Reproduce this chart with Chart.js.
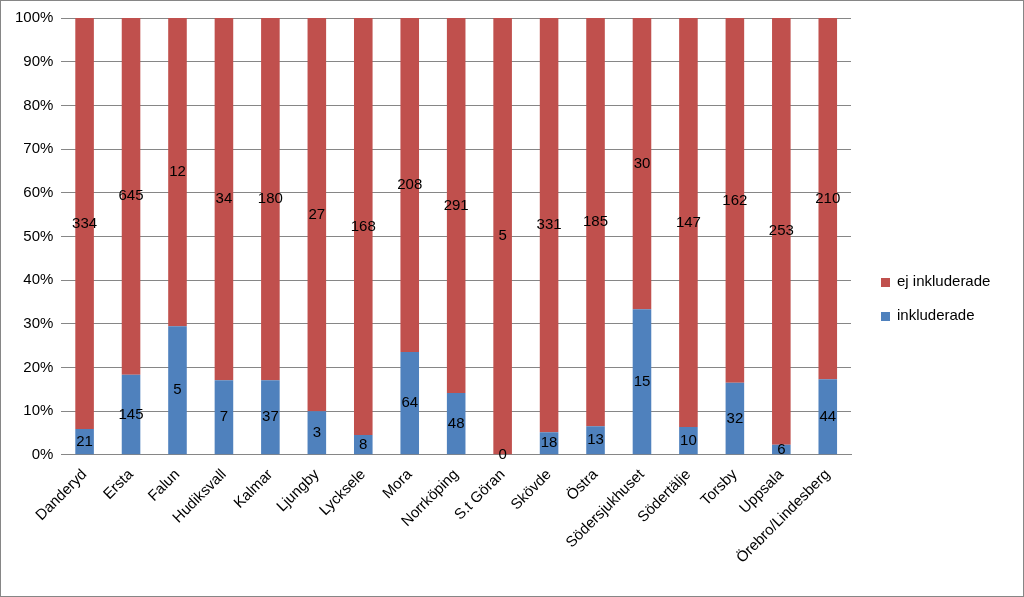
<!DOCTYPE html>
<html><head><meta charset="utf-8">
<script src="https://cdn.jsdelivr.net/npm/chart.js@4"></script>
<style>
body{margin:0;background:#fff}
#wrap{width:1022px;height:595px;border:1px solid #868686}
</style></head>
<body><div id="wrap"><canvas id="c" width="1022" height="595"></canvas></div>
<script>
const categories = ['Danderyd','Ersta','Falun','Hudiksvall','Kalmar','Ljungby','Lycksele','Mora','Norrköping','S.t Göran','Skövde','Östra','Södersjukhuset','Södertälje','Torsby','Uppsala','Örebro/Lindesberg'];
const inkluderade = [21,145,5,7,37,3,8,64,48,0,18,13,15,10,32,6,44];
const ejInkluderade = [334,645,12,34,180,27,168,208,291,5,331,185,30,147,162,253,210];

const pct = (a, b) => a.map((v, i) => 100 * v / (v + b[i]));
const font = '"Liberation Sans", Arial, sans-serif';

// write raw counts in the middle of each segment
const countLabels = {
  id: 'countLabels',
  afterDatasetsDraw(chart) {
    const ctx = chart.ctx;
    ctx.save();
    ctx.font = '15px ' + font;
    ctx.fillStyle = '#000';
    ctx.textAlign = 'center';
    ctx.textBaseline = 'middle';
    chart.data.datasets.forEach((ds, di) => {
      chart.getDatasetMeta(di).data.forEach((bar, i) => {
        const y = (bar.y + bar.base) / 2;
        ctx.fillText(ds.counts[i], bar.x, y);
      });
    });
    ctx.restore();
  }
};

// legend drawn by hand on the right
const sideLegend = {
  id: 'sideLegend',
  afterDraw(chart) {
    const ctx = chart.ctx;
    ctx.save();
    ctx.font = '15px ' + font;
    ctx.textBaseline = 'middle';
    const items = [chart.data.datasets[1], chart.data.datasets[0]];
    items.forEach((ds, i) => {
      const y = 281 + i * 34;
      ctx.fillStyle = ds.backgroundColor;
      ctx.fillRect(880, y - 4, 9, 9);
      ctx.fillStyle = '#000';
      ctx.fillText(ds.label, 896, y);
    });
    ctx.restore();
  }
};

new Chart(document.getElementById('c'), {
  type: 'bar',
  data: {
    labels: categories,
    datasets: [
      { label: 'inkluderade', data: pct(inkluderade, ejInkluderade), counts: inkluderade, backgroundColor: '#4F81BD' },
      { label: 'ej inkluderade', data: pct(ejInkluderade, inkluderade), counts: ejInkluderade, backgroundColor: '#C0504D' }
    ]
  },
  options: {
    responsive: false,
    animation: false,
    layout: { padding: { top: 14, right: 172, left: 6, bottom: 26 } },
    datasets: { bar: { categoryPercentage: 1, barPercentage: 0.4 } },
    scales: {
      x: {
        stacked: true,
        grid: { display: false },
        border: { color: '#868686' },
        ticks: { color: '#000', font: { size: 15, family: font }, maxRotation: 45, minRotation: 45, autoSkip: false }
      },
      y: {
        stacked: true, min: 0, max: 100,
        border: { display: false },
        grid: { color: '#868686', drawTicks: false },
        ticks: { stepSize: 10, padding: 8, color: '#000', font: { size: 15, family: font }, callback: v => v + '%' }
      }
    },
    plugins: { legend: { display: false }, tooltip: { enabled: false } }
  },
  plugins: [countLabels, sideLegend]
});
</script></body></html>
